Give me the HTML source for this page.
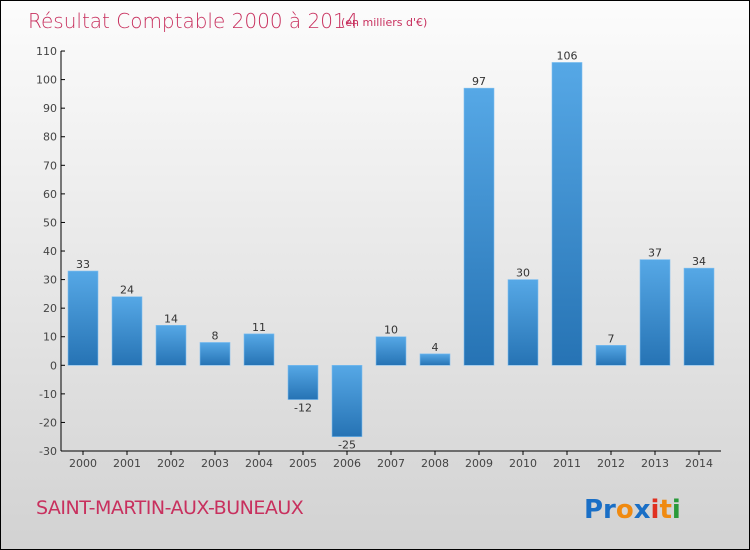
<!DOCTYPE html>
<html><head><meta charset="utf-8"><style>
body{margin:0;}
#c{width:750px;height:550px;position:relative;box-sizing:border-box;border:1px solid #000;background:linear-gradient(#fcfcfc,#d2d2d2);font-family:"DejaVu Sans","Liberation Sans",sans-serif;overflow:hidden}
</style></head><body>
<div id="c">
<svg width="750" height="550" style="position:absolute;left:0;top:0">
<defs><linearGradient id="g" x1="0" y1="0" x2="0" y2="1"><stop offset="0" stop-color="#56a8e6"/><stop offset="1" stop-color="#2673b4"/></linearGradient></defs>
<text x="27" y="27" font-size="20" fill="#c8305e" style="font-family:'DejaVu Sans',sans-serif;font-weight:200">Résultat Comptable 2000 à 2014</text>
<text x="340" y="25" font-size="11" fill="#c8305e">(en milliers d'€)</text>
<g id="axes"></g><g id="bars"></g>
<text x="35" y="513" font-size="19" fill="#c8305e" style="letter-spacing:-0.5px">SAINT-MARTIN-AUX-BUNEAUX</text>
<text x="583" y="517" font-size="26" font-weight="bold"><tspan fill="#1a6fc6">Pr</tspan><tspan fill="#f08a10">o</tspan><tspan fill="#1a6fc6">x</tspan><tspan fill="#e03020">i</tspan><tspan fill="#f08a10">t</tspan><tspan fill="#2a9a3a">i</tspan></text>
</svg>
</div>
<script>
const years=["2000","2001","2002","2003","2004","2005","2006","2007","2008","2009","2010","2011","2012","2013","2014"];
const values=[33,24,14,8,11,-12,-25,10,4,97,30,106,7,37,34];
const yTicks=[110,100,90,80,70,60,50,40,30,20,10,0,-10,-20,-30];
const NS="http://www.w3.org/2000/svg";
const y=v=>364.3-v*2.857;
const x=i=>82+i*44;
const ax=document.getElementById('axes'),bg=document.getElementById('bars');
function mk(t,a,p){const e=document.createElementNS(NS,t);for(const k in a)e.setAttribute(k,a[k]);p.appendChild(e);return e;}
let l=mk('line',{x1:60,y1:y(110),x2:60,y2:450,stroke:'#000'},ax);


l=mk('line',{x1:60,y1:450,x2:720,y2:450,stroke:'#000'},ax);


yTicks.forEach(v=>{
 mk('line',{x1:60,y1:y(v),x2:64,y2:y(v),stroke:'#000'},ax);
 const t=mk('text',{x:56,y:y(v)+4,'text-anchor':'end','font-size':11,fill:'#444'},ax);
 t.textContent=v<0?'-'+Math.abs(v):v;
 
 
});
years.forEach((yr,i)=>{
 mk('line',{x1:x(i),y1:450,x2:x(i),y2:454,stroke:'#000'},ax);
 const t=mk('text',{x:x(i),y:466,'text-anchor':'middle','font-size':11,fill:'#444'},ax);
 t.textContent=yr;
 
 
 const v=values[i];
 const r=mk('rect',{x:x(i)-15,y:Math.min(y(v),y(0)),width:30,height:Math.abs(y(v)-y(0)),fill:'url(#g)',stroke:'#7fbff0','stroke-width':0.6},bg);
 
 
 const lb=mk('text',{x:x(i),y:v>=0?y(v)-3:y(v)+12,'text-anchor':'middle','font-size':11,fill:'#333'},bg);
 lb.textContent=v<0?'-'+Math.abs(v):v;
 
 
});
</script>
</body></html>
